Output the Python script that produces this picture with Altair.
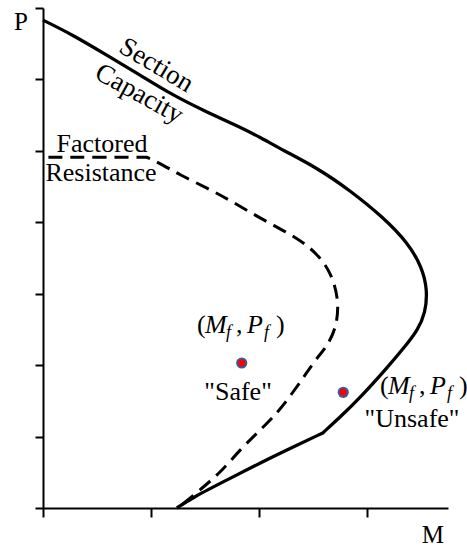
import altair as alt
import pandas as pd

# Section capacity (solid) interaction curve: moment M vs axial load P.
# The kink point near the bottom is repeated so the B-spline passes through it.
cap_m = [0.0, 0.28, 0.59, 0.90, 1.20, 1.52, 1.83, 2.01, 2.22, 2.54, 2.84, 3.15, 3.38,
         3.51, 3.56, 3.54, 3.47, 3.34, 3.19, 2.94, 2.75, 2.59, 2.59, 2.59, 2.31, 2.01,
         1.70, 1.39, 1.24]
cap_p = [6.83, 6.62, 6.34, 6.06, 5.78, 5.54, 5.33, 5.19, 5.01, 4.76, 4.45, 4.07, 3.71,
         3.37, 3.05, 2.73, 2.49, 2.24, 1.97, 1.55, 1.27, 1.05, 1.05, 1.05, 0.85, 0.63,
         0.39, 0.15, 0.0]

# Factored resistance (dashed) curve; corner at the end of the flat part repeated
res_m = [0.05, 0.96, 0.96, 0.96, 1.08, 1.27, 1.52, 1.73, 2.04, 2.35, 2.54, 2.67, 2.74,
         2.72, 2.62, 2.54, 2.44, 2.31, 2.17, 2.01, 1.82, 1.64, 1.45, 1.25]
res_p = [4.91, 4.91, 4.91, 4.91, 4.83, 4.66, 4.48, 4.31, 4.03, 3.79, 3.56, 3.29, 2.91,
         2.53, 2.24, 2.11, 1.89, 1.61, 1.33, 1.09, 0.81, 0.49, 0.25, 0.0]

# Factored load points (M_f, P_f)
pt_m = [1.84, 2.78]
pt_p = [2.03, 1.62]

x_ticks = [0, 1, 2, 3]
y_ticks = [0, 1, 2, 3, 4, 5, 6, 7]

FONT = "Liberation Serif"
xs = alt.Scale(domain=[0, 3.75], nice=False, zero=False)
ys = alt.Scale(domain=[0, 7], nice=False, zero=False)

cap_df = pd.DataFrame({"M": cap_m, "P": cap_p, "i": range(len(cap_m))})
res_df = pd.DataFrame({"M": res_m, "P": res_p, "i": range(len(res_m))})
pt_df = pd.DataFrame({"M": pt_m, "P": pt_p})

x_enc = alt.X("M:Q", scale=xs,
              axis=alt.Axis(values=x_ticks, labels=False, title=None, grid=False,
                            domainColor="black", domainWidth=2, tickColor="black",
                            tickWidth=2, tickSize=9))
y_enc = alt.Y("P:Q", scale=ys,
              axis=alt.Axis(values=y_ticks, labels=False, title=None, grid=False,
                            domainColor="black", domainWidth=2, tickColor="black",
                            tickWidth=2, tickSize=8))

capacity = alt.Chart(cap_df).mark_line(
    color="black", strokeWidth=3.3, interpolate="basis").encode(
    x=x_enc, y=y_enc, order="i:Q")

resistance = alt.Chart(res_df).mark_line(
    color="black", strokeWidth=3, strokeDash=[14, 8],
    interpolate="basis").encode(
    x=alt.X("M:Q", scale=xs), y=alt.Y("P:Q", scale=ys), order="i:Q")

pts_outer = alt.Chart(pt_df).mark_point(
    filled=True, color="#3D5A98", size=125, opacity=1).encode(
    x=alt.X("M:Q", scale=xs), y=alt.Y("P:Q", scale=ys))
pts_inner = alt.Chart(pt_df).mark_point(
    filled=True, color="#FF0000", size=48, opacity=1).encode(
    x=alt.X("M:Q", scale=xs), y=alt.Y("P:Q", scale=ys))


def label(text, m, p, size=26, angle=0, align="center", baseline="alphabetic"):
    df = pd.DataFrame({"M": [m], "P": [p], "t": [text]})
    return alt.Chart(df).mark_text(
        font=FONT, fontSize=size, color="black", align=align, baseline=baseline,
        angle=angle).encode(
        x=alt.X("M:Q", scale=xs), y=alt.Y("P:Q", scale=ys), text="t:N")


texts = [
    label("P", -0.204, 6.69, size=25),
    label("M", 3.61, -0.49, size=25),
    label("Section", 1.05, 6.20, size=27, angle=31, baseline="middle"),
    label("Capacity", 0.89, 5.80, size=27, angle=29, baseline="middle"),
    label("Factored", 0.546, 4.98),
    label("Resistance", 0.537, 4.58),
    label('"Safe"', 1.806, 1.51),
    label('"Unsafe"', 3.417, 1.13),
]

# (M_f, P_f) annotations built from pieces: text, x offset, y offset, size, style
math_anchor_m = [1.426, 3.12]
math_anchor_p = [2.45, 1.60]
math_pieces = [
    ("(", 0, 0, 26, "normal"),
    ("M", 8, 0, 26, "italic"),
    ("f", 29, 5, 18, "italic"),
    (",", 39, 0, 26, "normal"),
    ("P", 50, 0, 26, "italic"),
    ("f", 67, 5, 18, "italic"),
    (")", 79, 0, 26, "normal"),
]
math_df = pd.DataFrame({"M": math_anchor_m, "P": math_anchor_p})
math_layers = [
    alt.Chart(math_df).mark_text(
        text=t, dx=dx, dy=dy, fontSize=s, fontStyle=st, font=FONT, color="black",
        align="left", baseline="alphabetic").encode(
        x=alt.X("M:Q", scale=xs), y=alt.Y("P:Q", scale=ys))
    for t, dx, dy, s, st in math_pieces
]

chart = alt.layer(
    capacity, resistance, pts_outer, pts_inner, *texts, *math_layers
).properties(
    width=405, height=500,
    autosize=alt.AutoSizeParams(type="none"),
    padding={"left": 43, "top": 8, "right": 19, "bottom": 42},
).configure_view(stroke=None)

chart.save("out.html", embed_options={"renderer": "svg", "actions": False})
